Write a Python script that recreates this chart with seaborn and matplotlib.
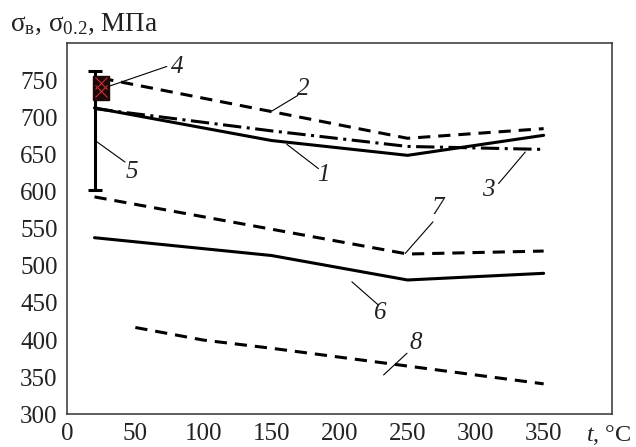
import matplotlib
matplotlib.use("Agg")
import matplotlib.pyplot as plt
import seaborn as sns
import numpy as np

# ---- data ----
t1 = [20, 150, 250, 350]; s1 = [713, 669, 649, 676]
t2 = [25, 150, 250, 350]; s2 = [753, 708, 672, 685]
t3 = [20, 150, 250, 350]; s3 = [712, 682, 661, 657]
t6 = [20, 150, 250, 350]; s6 = [538, 514, 481, 490]
t7 = [20, 250, 350];      s7 = [593, 516, 520]
t8 = [50, 100, 150, 200, 250, 300, 350]; s8 = [417, 400, 389, 377, 365, 353, 341]
# point 4 (range box) and 5 (error bar)
t4 = 25; s4_low = 724; s4_high = 756; s4_marks = [746, 736]
t5 = 20; s5_low = 602; s5_high = 763

xticks = [0, 50, 100, 150, 200, 250, 300, 350]
yticks = [300, 350, 400, 450, 500, 550, 600, 650, 700, 750]

# label positions: (text, text_x, text_y, line_from, line_to)
labels = [
    ("4", 80.7, 767.5, (30.9, 742.3), (73.1, 768.8)),
    ("2", 173.4, 739.0, (150.3, 708.7), (169.4, 729.8)),
    ("1", 188.0, 622.0, (161.3, 663.9), (184.6, 631.0)),
    ("5", 47.4, 626.7, (20.4, 669.0), (42.4, 640.0)),
    ("3", 309.3, 602.0, (336.5, 653.5), (316.9, 611.0)),
    ("7", 272.0, 577.4, (248.3, 516.8), (268.7, 559.4)),
    ("6", 230.0, 436.0, (209.1, 478.6), (228.7, 447.0)),
    ("8", 256.3, 395.8, (232.4, 353.0), (249.6, 382.3)),
]

sns.set_style("white")
plt.rcParams['font.family'] = ['Liberation Serif', 'DejaVu Serif']
plt.rcParams['mathtext.fontset'] = 'custom'
plt.rcParams['mathtext.rm'] = 'Liberation Serif'
plt.rcParams['mathtext.it'] = 'Liberation Serif:italic'

TXT = '#222222'
fig = plt.figure(figsize=(6.36, 4.47), dpi=100)
ax = fig.add_axes([0.1058, 0.0732, 0.9618 - 0.1058, 0.9031 - 0.0732])

LW = 2.2
sns.lineplot(x=t1, y=s1, ax=ax, color='black', lw=LW, linestyle='-')
sns.lineplot(x=t2, y=s2, ax=ax, color='black', lw=LW, linestyle=(0, (4, 2.6)))
sns.lineplot(x=t3, y=s3, ax=ax, color='black', lw=LW, linestyle=(0, (6, 1.8, 1, 1.8)))
sns.lineplot(x=t6, y=s6, ax=ax, color='black', lw=LW, linestyle='-')
sns.lineplot(x=t7, y=s7, ax=ax, color='black', lw=LW, linestyle=(0, (4, 2.6)))
sns.lineplot(x=t8, y=s8, ax=ax, color='black', lw=LW, linestyle=(0, (4, 2.6)))

# error bar 5
mid5 = (s5_low + s5_high) / 2
ax.errorbar([t5], [mid5], yerr=[[mid5 - s5_low], [s5_high - mid5]], fmt='none',
            ecolor='black', elinewidth=LW, capsize=5, capthick=LW, zorder=4)

# box 4
ax.bar([t4], [s4_high - s4_low], bottom=[s4_low], width=12, color='#1c0808',
       edgecolor='#1c0808', zorder=5)
ax.plot([t4] * len(s4_marks), s4_marks, linestyle='none', marker='x', color='#d03030',
        ms=9, mew=0.8, zorder=6)

for txt, tx, ty, p0, p1 in labels:
    ax.plot([p0[0], p1[0]], [p0[1], p1[1]], color='black', lw=0.8, zorder=3)
    ax.text(tx, ty, txt, fontsize=18, style='italic', ha='center', va='center', color=TXT)

ax.set_xlim(0, 400)
ax.set_ylim(300, 800)
ax.set_xticks(xticks)
ax.set_yticks(yticks)
ax.tick_params(axis='both', direction='in', length=6, width=1.0, colors='#333333',
               labelsize=18, labelcolor=TXT)
ax.tick_params(axis='x', pad=6)
ax.tick_params(axis='y', pad=7)
for sp in ax.spines.values():
    sp.set_visible(True)
    sp.set_color('#333333')
    sp.set_linewidth(1.1)
ax.set_xlabel('')
ax.set_ylabel('')

fig.text(631 / 636, 1 - 441 / 447, '$\\mathit{t}$, °C', fontsize=17.5, ha='right', va='baseline', color=TXT)
fig.text(10 / 636, 1 - 24 / 447, r'$\mathrm{σ}_{\mathrm{в}}$, $\mathrm{σ}_{0.2}$, МПа', fontsize=19.5,
         ha='left', va='center', color=TXT)

fig.savefig('out.png', dpi=100)
